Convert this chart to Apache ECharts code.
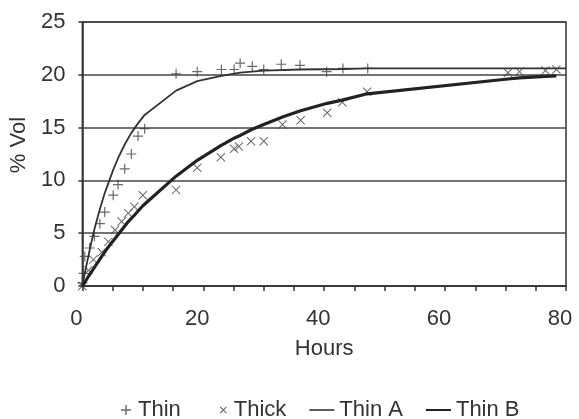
<!DOCTYPE html>
<html>
<head>
<meta charset="utf-8">
<script src="https://cdn.jsdelivr.net/npm/echarts@6/dist/echarts.min.js"></script>
<style>
  html, body { margin: 0; padding: 0; background: #fff; }
  #chart { width: 579px; height: 419px; }
</style>
</head>
<body>
<div id="chart"></div>
<script>
// measured points (hours, % vol)
var thinHours = [0, 0.2, 0.4, 1.2, 2.0, 2.9, 3.7, 5.1, 5.9, 7.0, 8.1, 9.2, 10.3, 15.5, 19.0, 23.0, 25.1, 26.1, 28.1, 30.0, 32.9, 36.0, 40.4, 43.1, 47.2];
var thinVol = [0.3, 1.2, 2.8, 3.6, 4.7, 5.9, 7.0, 8.6, 9.6, 11.1, 12.5, 14.2, 14.9, 20.1, 20.3, 20.5, 20.5, 21.1, 20.8, 20.5, 21.0, 20.9, 20.3, 20.6, 20.6];

var thickHours = [0, 1.0, 1.8, 3.2, 4.3, 5.4, 6.5, 7.6, 8.6, 10.0, 15.5, 19.0, 22.9, 25.1, 25.9, 27.9, 30.0, 33.1, 36.1, 40.5, 43.0, 47.1, 70.4, 72.3, 76.6, 78.4];
var thickVol = [0, 1.5, 2.5, 3.2, 4.2, 5.3, 6.1, 6.9, 7.5, 8.6, 9.1, 11.2, 12.2, 13.0, 13.2, 13.7, 13.7, 15.3, 15.7, 16.4, 17.4, 18.4, 20.2, 20.3, 20.4, 20.5];

// model curves
var thinAHours = [0, 0.2, 0.4, 1.2, 2.0, 2.9, 3.7, 5.1, 5.9, 7.0, 8.1, 9.2, 10.3, 15.5, 19.0, 23.0, 26.1, 30.0, 36.0, 43.1, 47.2, 80];
var thinAVol = [0, 0.6, 1.2, 3.4, 5.4, 7.3, 8.8, 11.0, 12.1, 13.4, 14.5, 15.4, 16.2, 18.5, 19.4, 19.9, 20.2, 20.4, 20.5, 20.55, 20.6, 20.6];

var thinBHours = thickHours;
var thinBVol = [0, 0.9, 1.6, 2.8, 3.7, 4.5, 5.3, 6.1, 6.7, 7.6, 10.4, 11.9, 13.3, 14.0, 14.2, 14.8, 15.3, 16.0, 16.6, 17.3, 17.6, 18.2, 19.6, 19.7, 19.85, 19.9];

var xTicks = [0, 20, 40, 60, 80];
var yTicks = [0, 5, 10, 15, 20, 25];

function pairs(xs, ys) {
  return xs.map(function (x, i) { return [x, ys[i]]; });
}

var plusPath = 'path://M0,4.4H4.4V0H5.6V4.4H10V5.6H5.6V10H4.4V5.6H0Z';
var crossPath = 'path://M0,0.8L0.8,0L5,4.2L9.2,0L10,0.8L5.8,5L10,9.2L9.2,10L5,5.8L0.8,10L0,9.2L4.2,5Z';

// legend icons drawn in a 25x10 box (corner moves fix the box size)
var legPlus = 'path://M0,0M25,10M13,4.3H17.3V0H18.7V4.3H23V5.7H18.7V10H17.3V5.7H13Z';
var legCross = 'path://M0,0M25,10M16,2.3L16.8,1.5L19.5,4.2L22.2,1.5L23,2.3L20.3,5L23,7.7L22.2,8.5L19.5,5.8L16.8,8.5L16,7.7L18.7,5Z';
var legLineA = 'path://M0,0M25,10M0,4.2H25V5.8H0Z';
var legLineB = 'path://M0,0M25,10M0,4H25V6H0Z';

var font = 'Liberation Sans, Arial, sans-serif';
var ink = '#333';

var chart = echarts.init(document.getElementById('chart'));

var option = {
  backgroundColor: '#fff',
  animation: false,
  textStyle: { fontFamily: font, color: ink },
  grid: {
    left: 79, right: 13, top: 22, bottom: 133,
    show: true, borderColor: ink, borderWidth: 1.5
  },
  legend: {
    left: 103, top: 394,
    itemWidth: 25, itemHeight: 10, itemGap: 23,
    textStyle: { fontSize: 22, color: ink, fontFamily: font },
    data: [
      { name: 'Thin', icon: legPlus },
      { name: 'Thick', icon: legCross },
      { name: 'Thin A', icon: legLineA },
      { name: 'Thin B', icon: legLineB }
    ]
  },
  xAxis: {
    type: 'value',
    min: xTicks[0], max: xTicks[xTicks.length - 1], interval: 20,
    name: 'Hours', nameLocation: 'middle', nameGap: 52,
    nameTextStyle: { fontSize: 22, color: ink, fontFamily: font },
    axisLine: { show: true, lineStyle: { color: ink, width: 1.5 } },
    axisTick: { show: true, length: 5, lineStyle: { color: ink, width: 1.5 } },
    minorTick: { show: true, splitNumber: 4, length: 5, lineStyle: { color: ink, width: 1.5 } },
    splitLine: { show: false },
    axisLabel: { fontSize: 22, color: ink, margin: 22, padding: [0, 12, 0, 0], fontFamily: font }
  },
  yAxis: {
    type: 'value',
    min: yTicks[0], max: yTicks[yTicks.length - 1], interval: 5,
    name: '% Vol', nameLocation: 'middle', nameGap: 50, nameRotate: 90,
    nameTextStyle: { fontSize: 22, color: ink, fontFamily: font, padding: [0, 0, 0, 18] },
    axisLine: { show: true, lineStyle: { color: ink, width: 1.5 } },
    axisTick: { show: true, length: 4, lineStyle: { color: ink, width: 1.5 } },
    splitLine: { show: true, lineStyle: { color: '#444', width: 1.6 } },
    axisLabel: { fontSize: 22, color: ink, margin: 17, fontFamily: font }
  },
  series: [
    {
      name: 'Thin', type: 'scatter',
      symbol: plusPath, symbolSize: 10,
      itemStyle: { color: '#444' },
      data: pairs(thinHours, thinVol)
    },
    {
      name: 'Thick', type: 'scatter',
      symbol: crossPath, symbolSize: 9,
      itemStyle: { color: '#444' },
      data: pairs(thickHours, thickVol)
    },
    {
      name: 'Thin A', type: 'line',
      showSymbol: false, smooth: false,
      itemStyle: { color: '#333' },
      lineStyle: { color: '#333', width: 1.8 },
      data: pairs(thinAHours, thinAVol)
    },
    {
      name: 'Thin B', type: 'line',
      showSymbol: false, smooth: false,
      itemStyle: { color: '#222' },
      lineStyle: { color: '#222', width: 3.2 },
      data: pairs(thinBHours, thinBVol)
    }
  ]
};

chart.setOption(option);
</script>
</body>
</html>
